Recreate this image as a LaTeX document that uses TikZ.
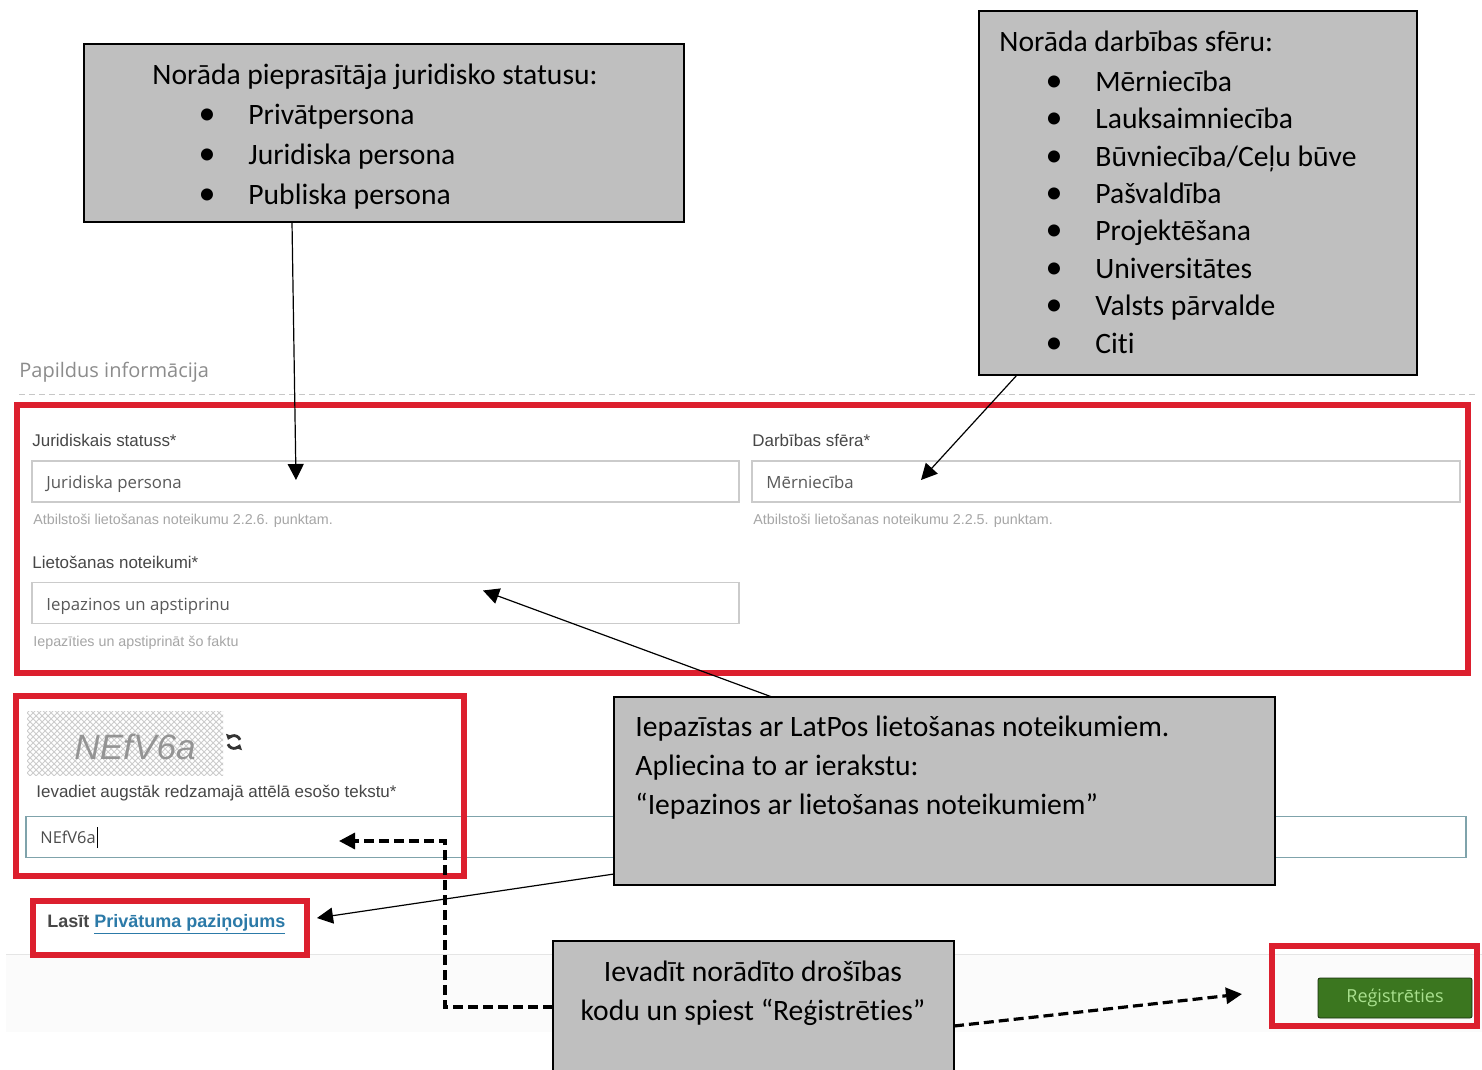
\documentclass[tikz,border=0pt]{standalone}
\usepackage{fontspec}
\setmainfont{Carlito}[Ligatures=NoCommon]
\newfontfamily\formfont{Liberation Sans}
\newfontfamily\fieldfont{Open Sans}
\usetikzlibrary{arrows.meta,calc,patterns}
\definecolor{calloutgrey}{HTML}{BFBFBF}
\definecolor{markred}{HTML}{DC1F2E}
\definecolor{fieldline}{HTML}{CBCBCB}
\definecolor{inputline}{HTML}{7FA3AB}
\definecolor{btngreen}{HTML}{3B761F}
\definecolor{btntext}{HTML}{A9E08E}
\definecolor{linkblue}{HTML}{2C7AA8}
\tikzset{
  callout/.style={draw=black,line width=1pt,fill=calloutgrey,inner sep=0pt,outer sep=0pt},
  redbox/.style={draw=markred,line width=3pt,inner sep=0pt,outer sep=0pt},
  field/.style={draw=fieldline,line width=0.55pt,fill=white,inner sep=0pt,outer sep=0pt},
  ctext/.style={anchor=base west,inner sep=0pt,font=\fontsize{14.8}{18}\selectfont,text=black},
  ccentre/.style={ctext,anchor=base},
  bul/.style={anchor=base,inner sep=0pt,font=\fontsize{17}{17}\selectfont,text=black},
  lab/.style={anchor=base west,inner sep=0pt,font=\formfont\fontsize{8.48}{10}\selectfont,text=black!72},
  hint/.style={anchor=base west,inner sep=0pt,font=\formfont\fontsize{7.15}{9}\selectfont,text=black!35},
  val/.style={anchor=base west,inner sep=0pt,font=\fieldfont\fontsize{8.4}{10}\selectfont,text=black!65},
  thinarrow/.style={draw=black,line width=0.6pt,-{Triangle[length=8pt,width=8pt]}},
  dasharrow/.style={draw=black,line width=1.6pt,dash pattern=on 5pt off 2.5pt,-{Triangle[length=8pt,width=8pt]}},
}
\begin{document}
\begin{tikzpicture}[x=0.5pt,y=-0.5pt]
\useasboundingbox (0,0) rectangle (1482,1070);
\clip (0,0) rectangle (1482,1070);
% page bands
\fill[white] (0,0) rectangle (1482,1070);
\fill[black!1.5] (6,954) rectangle (1482,1032);
\draw[black!10,line width=0.5pt] (6,954) -- (1482,954);
\draw[black!22,line width=0.5pt,densely dashed] (19,394) -- (1476,394);
\node[anchor=base west,inner sep=0pt,font=\fieldfont\fontsize{10}{12}\selectfont,text=black!45] (title) at (19,377) {Papildus informācija};
% form fields
\node[field,minimum width=353.5pt,minimum height=20.5pt] (f1) at (385.5,481.5) {};
\node[field,minimum width=354pt,minimum height=20.5pt] (f2) at (1106,481.5) {};
\node[field,minimum width=353.5pt,minimum height=20.5pt] (f3) at (385.5,603) {};
\node[field,draw=inputline,minimum width=720pt,minimum height=20.5pt] (f4) at (746,837) {};
\node[lab] (l1) at (32,446) {Juridiskais statuss*};
\node[lab] (l2) at (752,446) {Darbības sfēra*};
\node[lab] (l3) at (32,568) {Lietošanas noteikumi*};
\node[val] (v1) at (46,488) {Juridiska persona};
\node[val] (v2) at (766,488) {Mērniecība};
\node[val] (v3) at (46,610) {Iepazinos un apstiprinu};
\node[hint] (h1) at (33,524) {Atbilstoši lietošanas noteikumu 2.2.6. punktam.};
\node[hint] (h2) at (753,524) {Atbilstoši lietošanas noteikumu 2.2.5. punktam.};
\node[hint] (h3) at (33,646) {Iepazīties un apstiprināt šo faktu};
% captcha
\node[pattern=crosshatch,pattern color=black!20,minimum width=98pt,minimum height=32pt,inner sep=0pt] (cap) at (125,743.5) {};
\node[inner sep=0pt,font=\formfont\itshape\fontsize{17.6}{20}\selectfont,text=black!42] (capt) at (135,747) {NEfV6a};
\node[inner sep=0pt,minimum size=7pt] (ref) at (234,742) {};
\draw[black!80,line width=1.4pt,-{Triangle[length=2.5pt,width=3.8pt]}] ([shift={(20:3.2pt)}]ref.center) arc[start angle=20,end angle=160,radius=3.2pt];
\draw[black!80,line width=1.4pt,-{Triangle[length=2.5pt,width=3.8pt]}] ([shift={(200:3.2pt)}]ref.center) arc[start angle=200,end angle=340,radius=3.2pt];
\node[lab] (l4) at (36,797) {Ievadiet augstāk redzamajā attēlā esošo tekstu*};
\node[anchor=base west,inner sep=0pt,font=\fieldfont\fontsize{8.2}{10}\selectfont,text=black!70] (v4) at (40,843) {NEfV6a};
\draw[black,line width=0.6pt] ($(v4.base east)+(1,5)$) -- ($(v4.base east)+(1,-16)$);
\node[anchor=base west,inner sep=0pt,font=\formfont\bfseries\fontsize{9}{10}\selectfont,text=black!72] (read) at (47,927) {Lasīt \textcolor{linkblue}{\underline{Privātuma paziņojums}}};
% button
\node[draw=black!60!btngreen,fill=btngreen,rounded corners=1pt,line width=0.4pt,minimum width=77pt,minimum height=20pt,inner sep=0pt,font=\fieldfont\fontsize{9}{10}\selectfont,text=btntext] (btn) at (1395,998) {Reģistrēties};
% red marks
\node[redbox,minimum width=725.5pt,minimum height=134pt] (r1) at (742.5,539) {};
\node[redbox,minimum width=224pt,minimum height=90pt] (r2) at (240,786) {};
\node[redbox,minimum width=137pt,minimum height=27pt] (r3) at (170,928) {};
\node[redbox,minimum width=102.5pt,minimum height=40pt] (r4) at (1374.5,986) {};
% callouts
\node[callout,minimum width=300pt,minimum height=89pt] (b1) at (384,133) {};
\node[callout,minimum width=219pt,minimum height=182pt] (b2) at (1198,193) {};
\node[callout,minimum width=330.5pt,minimum height=94pt] (b3) at (944.5,791) {};
\node[callout,minimum width=200.5pt,minimum height=70pt] (b4) at (753.5,1011) {};
% callout texts
\node[ctext] (t10) at (152,84) {Norāda pieprasītāja juridisko statusu:};
\foreach \nm/\yy/\tx in {a/124.5/Privātpersona,b/164/Juridiska persona,c/204/Publiska persona}{
  \node[bul] (bl\nm) at (207,\yy) {•};
  \node[ctext] (tl\nm) at (248,\yy) {\tx};
}
\node[ctext] (t20) at (999,51.5) {Norāda darbības sfēru:};
\foreach \nm/\yy in {a/91,b/128,c/166,d/203,e/240,f/278,g/315,h/353}{
  \node[bul] (br\nm) at (1054,\yy) {•};
}
\node[ctext] (tra) at (1095,91) {Mērniecība};
\node[ctext] (trb) at (1095,128) {Lauksaimniecība};
\node[ctext] (trc) at (1095,166) {Būvniecība/Ceļu būve};
\node[ctext] (trd) at (1095,203) {Pašvaldība};
\node[ctext] (tre) at (1095,240) {Projektēšana};
\node[ctext] (trf) at (1095,278) {Universitātes};
\node[ctext] (trg) at (1095,315) {Valsts pārvalde};
\node[ctext] (trh) at (1095,353) {Citi};
\node[ctext] (t31) at (635,736) {Iepazīstas ar LatPos lietošanas noteikumiem.};
\node[ctext] (t32) at (635,775) {Apliecina to ar ierakstu:};
\node[ctext] (t33) at (635,814) {“Iepazinos ar lietošanas noteikumiem”};
\node[ccentre] (t41) at (753,981) {Ievadīt norādīto drošības};
\node[ccentre] (t42) at (753,1020) {kodu un spiest “Reģistrēties”};
% connectors
\draw[thinarrow] ($(b1.south west)+(208,0)$) -- ($(f1.north west)+(264,19)$);
\draw[thinarrow] ($(b2.south west)+(38,0)$) -- ($(f2.north west)+(169,19)$);
\draw[thinarrow] ($(b3.north west)+(158,0)$) -- ($(f3.north west)+(451,8)$);
\draw[thinarrow] ($(b3.south west)+(0,-11)$) -- ($(r3.east)+(10,-10)$);
\coordinate (bend) at (445,841);
\draw[dasharrow] ($(b4.north west)+(0,66)$) -| (bend) -- ($(r2.north west)+(323,145)$);
\draw[dasharrow] ($(b4.north east)+(0,85)$) -- ($(r4.west)+(-30,8)$);
\end{tikzpicture}
\end{document}
